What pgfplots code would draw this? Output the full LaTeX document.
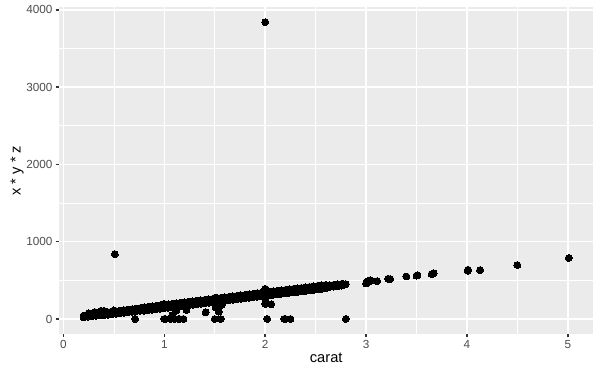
\documentclass[border=0pt]{standalone}
\usepackage{pgfplots}
\pgfplotsset{compat=1.18}
\usepackage{fontspec}
\setmainfont{Liberation Sans}
\definecolor{panelgrey}{HTML}{EBEBEB}
\definecolor{tickgrey}{HTML}{333333}
\definecolor{labgrey}{HTML}{4D4D4D}
\begin{document}
\begin{tikzpicture}[x=1pt,y=1pt]
\useasboundingbox (-44.5,-30.9) rectangle (405.5,250.35);
\begin{axis}[
  at={(0,0)}, anchor=south west,
  scale only axis, width=400.3pt, height=244.8pt,
  xmin=-0.0405, xmax=5.2505, ymin=-192.03, ymax=4032.63,
  axis background/.style={fill=panelgrey},
  axis line style={draw=none},
  xtick={0,1,2,3,4,5}, ytick={0,1000,2000,3000,4000},
  minor xtick={0.5,1.5,2.5,3.5,4.5}, minor ytick={500,1500,2500,3500},
  grid=both,
  major grid style={white, line width=1.07pt},
  minor grid style={white, line width=0.53pt},
  tick align=outside, xtick pos=bottom, ytick pos=left,
  major tick length=2.74pt, minor tick length=0pt,
  tick style={tickgrey, line width=1.07pt},
  /pgf/number format/assume math mode=true,
  /pgf/number format/1000 sep={},
  xticklabel style={font=\fontsize{8.8}{10}\selectfont, text=labgrey, inner sep=0pt, yshift=-2.2pt},
  yticklabel style={font=\fontsize{8.8}{10}\selectfont, text=labgrey, inner sep=0pt, xshift=-2.2pt},
  xlabel={carat}, ylabel={x * y * z},
  xlabel style={font=\fontsize{11}{13}\selectfont, at={([yshift=-21.2pt]axis description cs:0.5,0)}, anchor=base, inner sep=0pt},
  ylabel style={font=\fontsize{11}{13}\selectfont, at={([xshift=-29pt]axis description cs:0,0.5)}, anchor=base, inner sep=0pt},
]
\addplot[only marks, mark=*, mark size=2.6pt, draw=black, fill=black, mark options={line width=0pt}] coordinates {
(0.20,44)(0.24,51)(0.28,57)(0.32,64)(0.36,70)(0.40,82)(0.44,89)(0.48,95)(0.52,102)(0.56,108)
(0.60,115)(0.64,121)(0.68,127)(0.72,134)(0.76,140)(0.80,151)(0.84,157)(0.88,164)(0.92,170)(0.96,177)
(1.00,183)(1.04,189)(1.08,196)(1.12,202)(1.16,209)(1.20,215)(1.24,222)(1.28,228)(1.32,235)(1.36,241)
(1.40,247)(1.44,254)(1.48,260)(1.52,267)(1.56,273)(1.60,280)(1.64,286)(1.68,292)(1.72,299)(1.76,305)
(1.80,312)(1.84,318)(1.88,325)(1.92,331)(1.96,338)(2.00,344)(2.04,350)(2.08,357)(2.12,363)(2.16,370)
(2.20,376)(2.24,383)(2.28,389)(2.32,396)(2.36,402)(2.40,408)(2.44,415)(2.48,421)(2.52,428)(2.56,434)
(2.60,441)(2.64,437)(2.68,443)(2.72,450)(2.76,456)
(0.22,35)(0.26,42)(0.30,48)(0.34,55)(0.38,61)(0.42,67)(0.46,74)(0.50,80)(0.54,87)(0.58,93)
(0.62,100)(0.66,106)(0.70,112)(0.74,119)(0.78,125)(0.82,132)(0.86,138)(0.90,145)(0.94,151)(0.98,158)
(1.02,164)(1.06,170)(1.10,177)(1.14,183)(1.18,190)(1.22,196)(1.26,203)(1.30,209)(1.34,216)(1.38,222)
(1.42,228)(1.46,235)(1.50,241)(1.54,248)(1.58,254)(1.62,261)(1.66,267)(1.70,273)(1.74,280)(1.78,286)
(1.82,293)(1.86,299)(1.90,306)(1.94,312)(1.98,319)(2.02,325)(2.06,331)(2.10,338)(2.14,344)(2.18,351)
(2.22,357)(2.26,364)(2.30,370)(2.34,377)(2.38,383)(2.42,389)(2.46,396)(2.50,402)(2.54,409)(2.58,415)
(2.62,422)(2.66,428)(2.70,434)(2.74,441)(2.78,447)(2.80,451)
(0.20,22)(0.24,29)(0.28,35)(0.32,42)(0.36,48)(0.40,48)(0.44,55)(0.48,61)(0.52,68)(0.56,74)
(0.60,81)(0.64,87)(0.68,93)(0.72,100)(0.76,106)(0.80,107)(0.84,113)(0.88,120)(0.92,126)(0.96,133)
(1.00,139)(1.04,145)(1.08,152)(1.12,158)(1.16,165)(1.20,171)(1.24,178)(1.28,184)(1.32,191)(1.36,197)
(1.40,203)(1.44,210)(1.48,216)(1.52,223)(1.56,229)(1.60,236)(1.64,242)(1.68,248)(1.72,255)(1.76,261)
(1.80,268)(1.84,274)(1.88,281)(1.92,287)(1.96,294)(2.00,300)(2.04,306)(2.08,313)(2.12,319)(2.16,326)
(2.20,332)(2.24,339)(2.28,345)(2.32,352)(2.36,358)(2.40,364)(2.44,371)(2.48,377)(2.52,384)(2.56,390)
(2.60,397)(2.64,413)(2.68,419)(2.72,426)(2.76,432)
(0.25,75)(0.31,90)(0.37,105)(0.40,105)(0.50,110)(1.00,195)(1.51,278)(2.00,390)(2.01,370)
(2.00,260)(2.00,195)(2.06,190)(1.08,50)(1.12,107)(1.22,115)(1.41,85)(1.51,150)(1.54,95)(1.57,181)
(0.71,0)(1.00,0)(1.01,0)(1.06,0)(1.10,0)(1.14,0)(1.15,0)(1.19,0)(1.50,0)(1.56,0)
(2.02,0)(2.19,0)(2.20,0)(2.25,0)(2.80,0)
(3.00,460)(3.01,470)(3.01,480)(3.02,490)(3.04,500)(3.05,495)(3.11,490)(3.22,520)(3.24,515)
(3.40,550)(3.50,560)(3.51,565)(3.65,580)(3.67,590)(4.01,622)(4.01,637)(4.13,633)(4.50,698)(5.01,790)
(0.51,838)(2.00,3840)
};
\end{axis}
\end{tikzpicture}
\end{document}
